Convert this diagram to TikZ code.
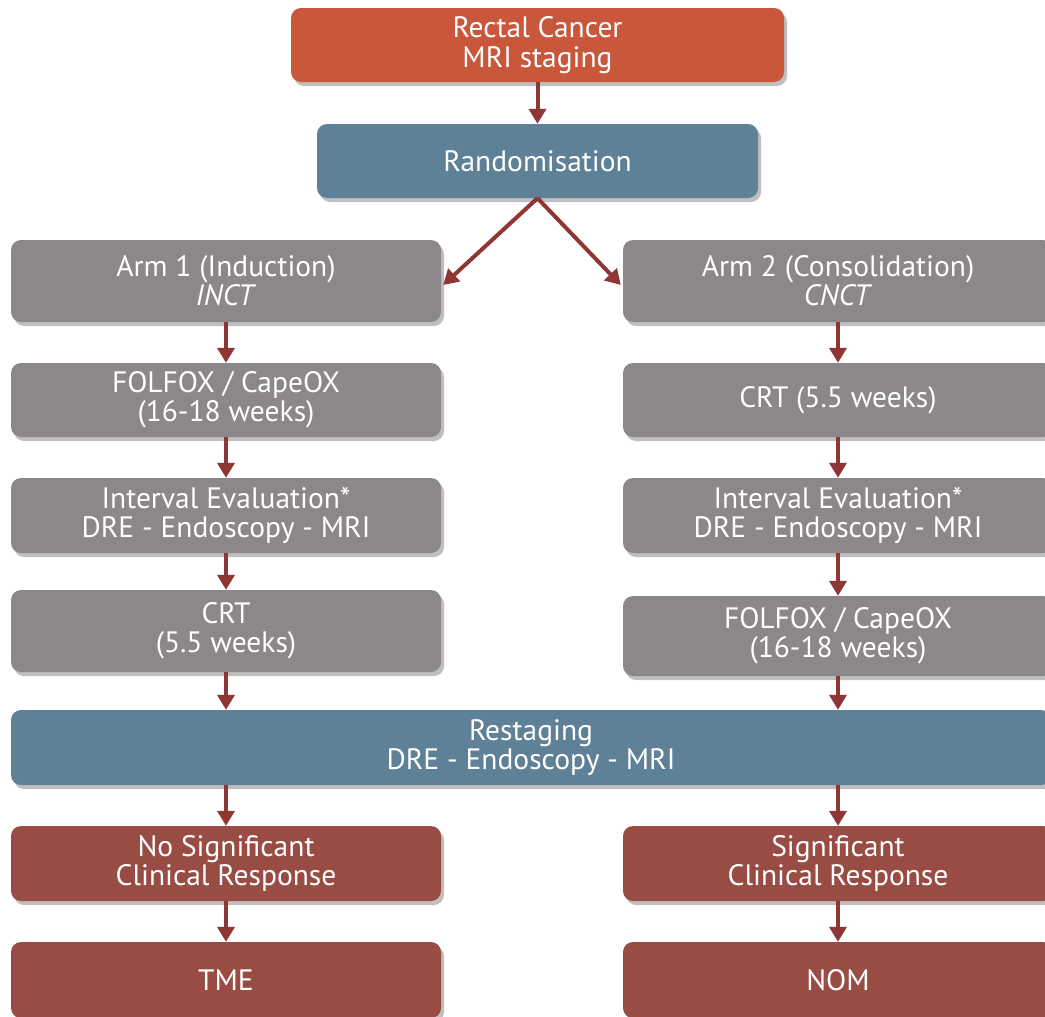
\documentclass[tikz,border=0pt]{standalone}
\usepackage{fontspec}
\setmainfont{PT Sans}
\usetikzlibrary{arrows.meta,shadows}
\definecolor{topc}{HTML}{C8573B}
\definecolor{bluec}{HTML}{5E8197}
\definecolor{grayc}{HTML}{8B878A}
\definecolor{redc}{HTML}{984C44}
\definecolor{arrc}{HTML}{8E3634}
\tikzset{
  box/.style={rounded corners=10pt, draw=none, text=white, align=center,
    font=\fontsize{29.5}{29.3}\selectfont, inner sep=0pt,
    drop shadow={shadow xshift=3pt, shadow yshift=-4pt, opacity=0.25, fill=black}},
  topbox/.style={box, fill=topc},
  bluebox/.style={box, fill=bluec},
  graybox/.style={box, fill=grayc, minimum width=430pt},
  redbox/.style={box, fill=redc, minimum width=430pt},
  arr/.style={draw=arrc, line width=4pt, -{Triangle[width=17pt,length=15pt]}, fill=arrc}
}
\begin{document}
\begin{tikzpicture}[x=1pt,y=-1pt]
\useasboundingbox (0,0) rectangle (1045,1017);
\node[topbox, minimum width=493pt, minimum height=74pt] (top) at (537.5,45) {Rectal Cancer\\MRI staging};
\node[bluebox, minimum width=441pt, minimum height=74pt] (rand) at (537.5,161) {Randomisation};
\node[graybox, minimum height=82pt] (a1) at (226,281) {Arm 1 (Induction)\\\textit{INCT}};
\node[graybox, minimum height=82pt] (a2) at (838,281) {Arm 2 (Consolidation)\\\textit{CNCT}};
\node[graybox, minimum height=74pt] (l2) at (226,400) {FOLFOX / CapeOX\\(16-18 weeks)};
\node[graybox, minimum height=74pt] (r2) at (838,400) {CRT (5.5 weeks)};
\node[graybox, minimum height=75pt] (l3) at (226,515.5) {Interval Evaluation*\\DRE - Endoscopy - MRI};
\node[graybox, minimum height=75pt] (r3) at (838,515.5) {Interval Evaluation*\\DRE - Endoscopy - MRI};
\node[graybox, minimum height=82pt] (l4) at (226,631) {CRT\\(5.5 weeks)};
\node[graybox, minimum height=80pt] (r4) at (838,636) {FOLFOX / CapeOX\\(16-18 weeks)};
\node[bluebox, minimum width=1040pt, minimum height=75pt] (rest) at (531,747.5) {Restaging\\DRE - Endoscopy - MRI};
\node[redbox, minimum height=75pt] (l5) at (226,863.5) {No Significant\\Clinical Response};
\node[redbox, minimum height=75pt] (r5) at (838,863.5) {Significant\\Clinical Response};
\node[redbox, minimum height=76pt] (l6) at (226,980) {TME};
\node[redbox, minimum height=76pt] (r6) at (838,980) {NOM};
\draw[arr] (top.south) -- (rand.north);
\draw[arr] (rand.south) -- ([xshift=2pt,yshift=-4pt]a1.east);
\draw[arr] (rand.south) -- ([xshift=-2pt,yshift=-4pt]a2.west);
\draw[arr] (a1.south) -- (l2.north);
\draw[arr] (l2.south) -- (l3.north);
\draw[arr] (l3.south) -- (l4.north);
\draw[arr] (l4.south) -- (l4.south |- rest.north);
\draw[arr] (a2.south) -- (r2.north);
\draw[arr] (r2.south) -- (r3.north);
\draw[arr] (r3.south) -- (r4.north);
\draw[arr] (r4.south) -- (r4.south |- rest.north);
\draw[arr] (l5.north |- rest.south) -- (l5.north);
\draw[arr] (r5.north |- rest.south) -- (r5.north);
\draw[arr] (l5.south) -- (l6.north);
\draw[arr] (r5.south) -- (r6.north);
\end{tikzpicture}
\end{document}
